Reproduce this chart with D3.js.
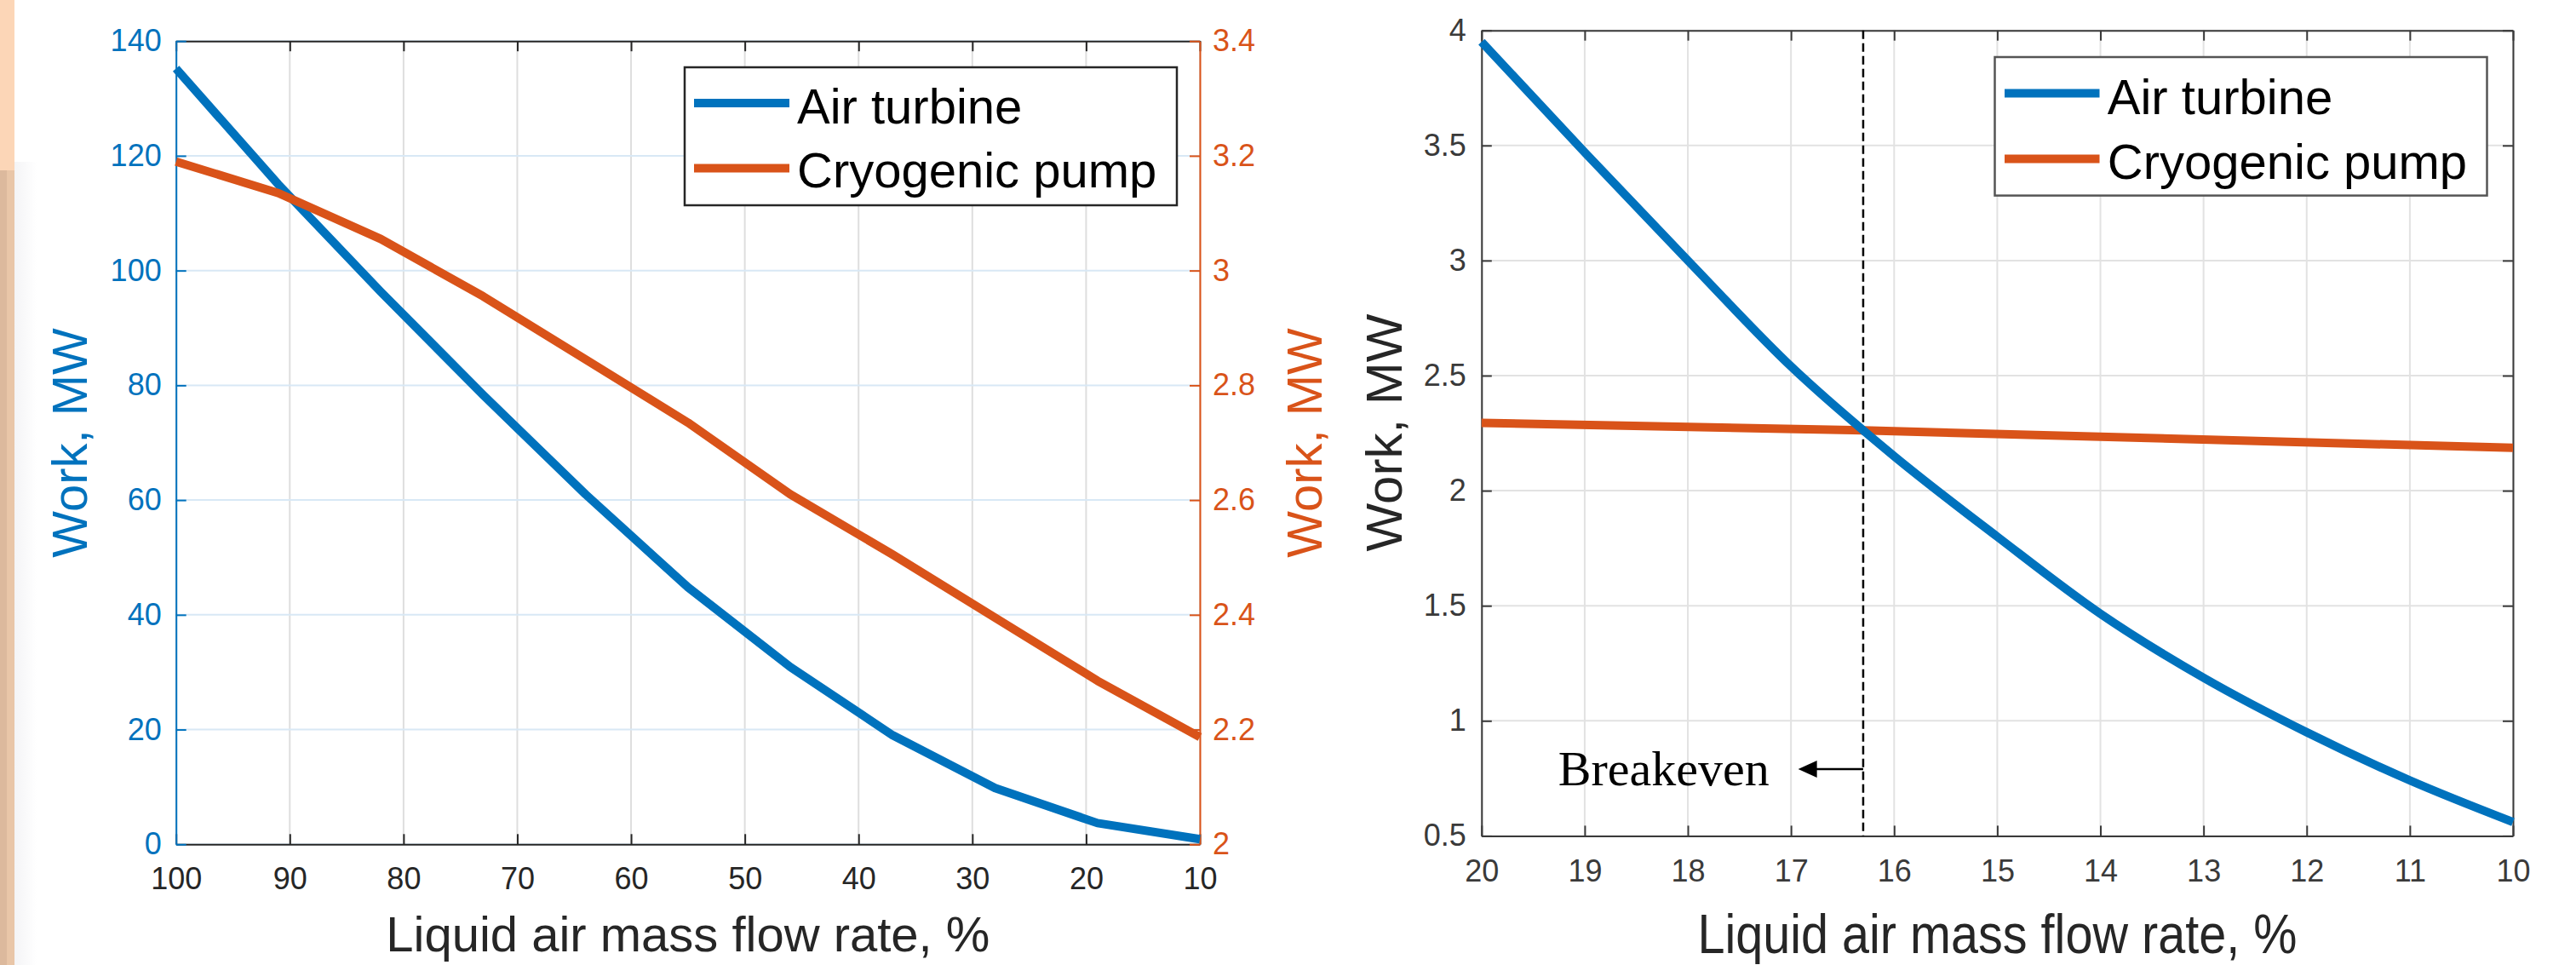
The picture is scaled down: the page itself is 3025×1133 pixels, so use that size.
<!DOCTYPE html>
<html>
<head>
<meta charset="utf-8">
<script src="https://cdn.jsdelivr.net/npm/d3@7"></script>
<style>
  body { margin: 0; background: #fff; }
  text { font-family: "Liberation Sans", Arial, sans-serif; }
</style>
</head>
<body>
<svg id="chart" width="3025" height="1133"></svg>
<script>
// left panel, full flow range (left axis turbine MW, right axis pump MW)
var leftFlow = [100, 91, 82, 73, 64, 55, 46, 37, 28, 19, 10];
var leftTurbine = [135.2, 115.0, 96.3, 78.3, 61.0, 44.8, 30.9, 19.0, 9.8, 3.7, 0.9];
var leftPump = [3.19, 3.135, 3.055, 2.955, 2.845, 2.735, 2.61, 2.505, 2.395, 2.285, 2.187];
var leftXTicks = [100, 90, 80, 70, 60, 50, 40, 30, 20, 10];
var leftYTicks = [0, 20, 40, 60, 80, 100, 120, 140];
var leftY2Ticks = [2, 2.2, 2.4, 2.6, 2.8, 3, 3.2, 3.4];

// right panel, zoom on 20..10 %
var rightFlow = [20, 19, 18, 17, 16, 15, 14, 13, 12, 11, 10];
var rightTurbine = [3.95, 3.47, 3.0, 2.54, 2.15, 1.8, 1.465, 1.187, 0.95, 0.741, 0.56];
var pumpFlow = [20, 16.3, 10];
var rightPump = [2.295, 2.262, 2.186];
var rightXTicks = [20, 19, 18, 17, 16, 15, 14, 13, 12, 11, 10];
var rightYTicks = [0.5, 1, 1.5, 2, 2.5, 3, 3.5, 4];
var breakeven = 16.3;

var seriesNames = ["Air turbine", "Cryogenic pump"];
var blue = "#0072bd", orange = "#d95319", ink = "#262626";

var svg = d3.select("#chart");

// peach strip on the far left (screenshot edge)
svg.append("rect").attr("x", 0).attr("y", 0).attr("width", 17).attr("height", 200).attr("fill", "#fcd6b7");
svg.append("rect").attr("x", 0).attr("y", 200).attr("width", 17).attr("height", 933).attr("fill", "#e9c6a8");
svg.append("rect").attr("x", 0).attr("y", 200).attr("width", 8).attr("height", 933).attr("fill", "#dcb99d");
var grad = svg.append("defs").append("linearGradient").attr("id", "shade");
grad.append("stop").attr("offset", "0%").attr("stop-color", "#f4f4f6");
grad.append("stop").attr("offset", "100%").attr("stop-color", "#ffffff");
svg.append("rect").attr("x", 17).attr("y", 190).attr("width", 26).attr("height", 943).attr("fill", "url(#shade)");

function styleAxis(g, color, size) {
  g.select(".domain").attr("stroke", color).attr("stroke-width", 2);
  g.selectAll(".tick line").attr("stroke", color).attr("stroke-width", 2);
  g.selectAll(".tick text").attr("fill", color).style("font-size", size + "px");
}

// ---------- left panel ----------
var xL = d3.scaleLinear().domain([100, 10]).range([206.7, 1409]);
var yL = d3.scaleLinear().domain([0, 140]).range([991.3, 48.2]);
var yL2 = d3.scaleLinear().domain([2, 3.4]).range([991.3, 48.2]);

var gl = svg.append("g");
gl.selectAll(".vgrid").data(leftXTicks).enter().append("line")
  .attr("x1", d => xL(d)).attr("x2", d => xL(d))
  .attr("y1", yL.range()[1]).attr("y2", yL.range()[0])
  .attr("stroke", "#dedede").attr("stroke-width", 2);
gl.selectAll(".hgrid").data(leftYTicks).enter().append("line")
  .attr("x1", xL.range()[0]).attr("x2", xL.range()[1])
  .attr("y1", d => yL(d)).attr("y2", d => yL(d))
  .attr("stroke", "#d8e8f5").attr("stroke-width", 2);

gl.append("g").attr("transform", "translate(0," + yL.range()[0] + ")")
  .call(d3.axisBottom(xL).tickValues(leftXTicks).tickSizeInner(-12).tickSizeOuter(0).tickPadding(27))
  .call(styleAxis, ink, 36);
gl.append("g").attr("transform", "translate(0," + yL.range()[1] + ")")
  .call(d3.axisTop(xL).tickValues(leftXTicks).tickSizeInner(-12).tickSizeOuter(0).tickFormat(""))
  .call(styleAxis, ink, 36);
gl.append("g").attr("transform", "translate(" + xL.range()[0] + ",0)")
  .call(d3.axisLeft(yL).tickValues(leftYTicks).tickSizeInner(-12).tickSizeOuter(0).tickPadding(17))
  .call(styleAxis, blue, 36);
gl.append("g").attr("transform", "translate(" + xL.range()[1] + ",0)")
  .call(d3.axisRight(yL2).tickValues(leftY2Ticks).tickSizeInner(-12).tickSizeOuter(0).tickPadding(15).tickFormat(d3.format("~g")))
  .call(styleAxis, orange, 36);

var lineL = d3.line().x(d => xL(d[0])).y(d => yL(d[1]));
var lineL2 = d3.line().x(d => xL(d[0])).y(d => yL2(d[1]));
gl.append("path").attr("d", lineL(d3.zip(leftFlow, leftTurbine)))
  .attr("fill", "none").attr("stroke", blue).attr("stroke-width", 10).attr("stroke-linejoin", "round");
gl.append("path").attr("d", lineL2(d3.zip(leftFlow, leftPump)))
  .attr("fill", "none").attr("stroke", orange).attr("stroke-width", 10).attr("stroke-linejoin", "round");

gl.append("text").attr("transform", "translate(102,520) rotate(-90)")
  .attr("text-anchor", "middle").attr("font-size", 58).attr("fill", blue).text("Work, MW");
gl.append("text").attr("transform", "translate(1552,520) rotate(-90)")
  .attr("text-anchor", "middle").attr("font-size", 58).attr("fill", orange).text("Work, MW");
gl.append("text").attr("x", (xL.range()[0] + xL.range()[1]) / 2).attr("y", 1117)
  .attr("text-anchor", "middle").attr("font-size", 58).attr("fill", ink)
  .text("Liquid air mass flow rate, %");

// legend left
var legL = gl.append("g").attr("transform", "translate(804,79)");
legL.append("rect").attr("width", 578).attr("height", 162)
  .attr("fill", "#fff").attr("stroke", ink).attr("stroke-width", 2.5);
seriesNames.forEach(function (name, i) {
  legL.append("line").attr("x1", 11).attr("x2", 123).attr("y1", 42 + i * 76.5).attr("y2", 42 + i * 76.5)
    .attr("stroke", i ? orange : blue).attr("stroke-width", 10);
  legL.append("text").attr("x", 132).attr("y", 66 + i * 75).attr("font-size", 58)
    .attr("fill", "#000").text(name);
});

// ---------- right panel ----------
var xR = d3.scaleLinear().domain([20, 10]).range([1739.8, 2951]);
var yR = d3.scaleLinear().domain([0.5, 4]).range([981.4, 35.7]);

var gr = svg.append("g");
gr.selectAll(".vgrid").data(rightXTicks).enter().append("line")
  .attr("x1", d => xR(d)).attr("x2", d => xR(d))
  .attr("y1", yR.range()[1]).attr("y2", yR.range()[0])
  .attr("stroke", "#e2e2e2").attr("stroke-width", 2);
gr.selectAll(".hgrid").data(rightYTicks).enter().append("line")
  .attr("x1", xR.range()[0]).attr("x2", xR.range()[1])
  .attr("y1", d => yR(d)).attr("y2", d => yR(d))
  .attr("stroke", "#e2e2e2").attr("stroke-width", 2);

var boxInk = "#3a3a3a";
gr.append("g").attr("transform", "translate(0," + yR.range()[0] + ")")
  .call(d3.axisBottom(xR).tickValues(rightXTicks).tickSizeInner(-12).tickSizeOuter(0).tickPadding(28))
  .call(styleAxis, boxInk, 36);
gr.append("g").attr("transform", "translate(0," + yR.range()[1] + ")")
  .call(d3.axisTop(xR).tickValues(rightXTicks).tickSizeInner(-12).tickSizeOuter(0).tickFormat(""))
  .call(styleAxis, boxInk, 36);
gr.append("g").attr("transform", "translate(" + xR.range()[0] + ",0)")
  .call(d3.axisLeft(yR).tickValues(rightYTicks).tickSizeInner(-12).tickSizeOuter(0).tickPadding(18).tickFormat(d3.format("~g")))
  .call(styleAxis, boxInk, 36);
gr.append("g").attr("transform", "translate(" + xR.range()[1] + ",0)")
  .call(d3.axisRight(yR).tickValues(rightYTicks).tickSizeInner(-12).tickSizeOuter(0).tickFormat(""))
  .call(styleAxis, boxInk, 36);

// breakeven marker
gr.append("line").attr("x1", xR(breakeven)).attr("x2", xR(breakeven))
  .attr("y1", yR.range()[1]).attr("y2", yR.range()[0])
  .attr("stroke", "#000").attr("stroke-width", 2.5).attr("stroke-dasharray", "10,5");

var lineR = d3.line().x(d => xR(d[0])).y(d => yR(d[1])).curve(d3.curveMonotoneX);
gr.append("path").attr("d", lineR(d3.zip(pumpFlow, rightPump)))
  .attr("fill", "none").attr("stroke", orange).attr("stroke-width", 10);
gr.append("path").attr("d", lineR(d3.zip(rightFlow, rightTurbine)))
  .attr("fill", "none").attr("stroke", blue).attr("stroke-width", 10);

var ay = yR(0.79), ax0 = xR(breakeven), ax1 = xR(16.93);
gr.append("line").attr("x1", ax0).attr("x2", ax1 + 15).attr("y1", ay).attr("y2", ay)
  .attr("stroke", "#000").attr("stroke-width", 2.5);
gr.append("path").attr("d", "M" + ax1 + "," + ay + "L" + (ax1 + 22) + "," + (ay - 10) + "L" + (ax1 + 22) + "," + (ay + 10) + "Z")
  .attr("fill", "#000");
gr.append("text").attr("x", xR(17.21)).attr("y", 922).attr("text-anchor", "end")
  .style("font-family", "'Liberation Serif', 'Times New Roman', serif").attr("font-size", 58)
  .attr("fill", "#000").text("Breakeven");

gr.append("text").attr("transform", "translate(1646,508) rotate(-90)")
  .attr("text-anchor", "middle").attr("font-size", 60).attr("fill", ink).text("Work, MW");
gr.append("text").attr("x", (xR.range()[0] + xR.range()[1]) / 2).attr("y", 1119)
  .attr("text-anchor", "middle").attr("font-size", 64).attr("fill", ink)
  .attr("textLength", 704).attr("lengthAdjust", "spacingAndGlyphs")
  .text("Liquid air mass flow rate, %");

// legend right
var legR = gr.append("g").attr("transform", "translate(2342.5,67)");
legR.append("rect").attr("width", 578).attr("height", 162.6)
  .attr("fill", "#fff").attr("stroke", "#555").attr("stroke-width", 2.5);
seriesNames.forEach(function (name, i) {
  legR.append("line").attr("x1", 11.5).attr("x2", 123).attr("y1", 42.6 + i * 76.8).attr("y2", 42.6 + i * 76.8)
    .attr("stroke", i ? orange : blue).attr("stroke-width", 10);
  legR.append("text").attr("x", 132.3).attr("y", 67 + i * 76).attr("font-size", 58)
    .attr("fill", "#000").text(name);
});
</script>
</body>
</html>
